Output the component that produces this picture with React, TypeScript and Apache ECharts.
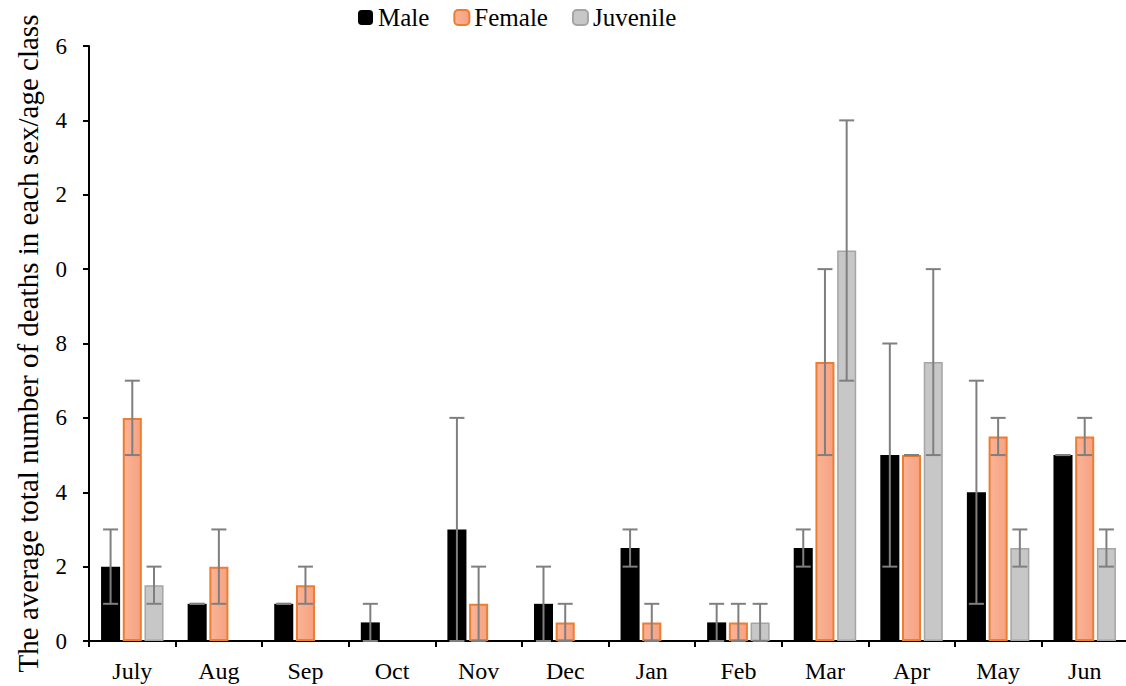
import React, { useEffect, useRef } from "react";
import * as echarts from "echarts";

const categories = ["July", "Aug", "Sep", "Oct", "Nov", "Dec", "Jan", "Feb", "Mar", "Apr", "May", "Jun"];
const seriesNames = ["Male", "Female", "Juvenile"];
const maleValues = [2, 1, 1, 0.5, 3, 1, 2.5, 0.5, 2.5, 5, 4, 5];
const femaleValues = [6, 2, 1.5, 0, 1, 0.5, 0.5, 0.5, 7.5, 5, 5.5, 5.5];
const juvenileValues = [1.5, 0, 0, 0, 0, 0, 0, 0.5, 10.5, 7.5, 2.5, 2.5];
const maleLow = [1, 1, 1, 0, 0, 0, 2, 0, 2, 2, 1, 5];
const maleHigh = [3, 1, 1, 1, 6, 2, 3, 1, 3, 8, 7, 5];
const femaleLow = [5, 1, 1, null, 0, 0, 0, 0, 5, 5, 5, 5];
const femaleHigh = [7, 3, 2, null, 2, 1, 1, 1, 10, 5, 6, 6];
const juvenileLow = [1, null, null, null, null, null, null, 0, 7, 5, 2, 2];
const juvenileHigh = [2, null, null, null, null, null, null, 1, 14, 10, 3, 3];
const yTicks = [0, 2, 4, 6, 8, 10, 12, 14, 16];
const yTickLabels = ["0", "2", "4", "6", "8", "0", "2", "4", "6"];

const FONT = "Liberation Serif";
const BAR_RATIO = 0.22;
const GAP_RATIO = 0.14;

function errData(lo: (number | null)[], hi: (number | null)[]) {
  const out: any[] = [];
  lo.forEach((l, i) => {
    if (l !== null && hi[i] !== null) out.push([i, l, hi[i]]);
  });
  return out;
}

function barData(values: number[]) {
  return values.map((v) => (v === 0 ? null : v));
}

function errSeries(seriesIndex: number, lo: (number | null)[], hi: (number | null)[]) {
  return {
    type: "custom",
    name: "err" + seriesIndex,
    z: 5,
    silent: true,
    encode: { x: 0, y: [1, 2] },
    data: errData(lo, hi),
    renderItem: (params: any, api: any) => {
      const idx = api.value(0);
      const pLo = api.coord([idx, api.value(1)]);
      const pHi = api.coord([idx, api.value(2)]);
      const band = api.size([1, 0])[0];
      const bw = band * BAR_RATIO;
      const off = (seriesIndex - 1) * bw * (1 + GAP_RATIO);
      const x = pLo[0] + off;
      const cap = 7.5;
      const style = { stroke: "#7f7f7f", lineWidth: 2 };
      return {
        type: "group",
        children: [
          { type: "line", shape: { x1: x, y1: pLo[1], x2: x, y2: pHi[1] }, style },
          { type: "line", shape: { x1: x - cap, y1: pHi[1], x2: x + cap, y2: pHi[1] }, style },
          { type: "line", shape: { x1: x - cap, y1: pLo[1], x2: x + cap, y2: pLo[1] }, style },
        ],
      };
    },
  };
}

export default function App() {
  const ref = useRef<HTMLDivElement>(null);
  useEffect(() => {
    if (!ref.current) return;
    const chart = echarts.init(ref.current, null, { renderer: "svg" });
    const barW = (BAR_RATIO * 100).toFixed(1) + "%";
    chart.setOption({
      animation: false,
      backgroundColor: "#ffffff",
      textStyle: { fontFamily: FONT },
      legend: {
        data: seriesNames,
        top: 0,
        left: 353,
        itemWidth: 15,
        itemHeight: 15,
        itemGap: 24,
        textStyle: { fontFamily: FONT, fontSize: 25, color: "#000" },
      },
      grid: { left: 89, right: -2, top: 46, bottom: 45, containLabel: false, outerBoundsMode: "none" },
      xAxis: {
        type: "category",
        data: categories,
        axisLine: { lineStyle: { color: "#000", width: 2 } },
        axisTick: { show: true, length: 6, lineStyle: { color: "#000", width: 2 } },
        axisLabel: { fontFamily: FONT, fontSize: 24, color: "#000", margin: 18 },
      },
      yAxis: {
        type: "value",
        min: 0,
        max: 16,
        interval: 2,
        name: "The average total number of deaths in each sex/age class",
        nameLocation: "middle",
        nameGap: 47,
        nameTextStyle: { fontFamily: FONT, fontSize: 29, color: "#000" },
        axisLine: { show: true, lineStyle: { color: "#000", width: 2 } },
        axisTick: { show: true, length: 6, lineStyle: { color: "#000", width: 2 } },
        splitLine: { show: false },
        axisLabel: {
          fontFamily: FONT,
          fontSize: 23,
          color: "#000",
          margin: 22,
          formatter: (v: number) => {
            const i = yTicks.indexOf(v);
            return i >= 0 ? yTickLabels[i] : "";
          },
        },
      },
      series: [
        {
          type: "bar",
          name: "Male",
          data: barData(maleValues),
          barWidth: barW,
          barGap: (GAP_RATIO * 100).toFixed(0) + "%",
          itemStyle: { color: "#000000" },
        },
        {
          type: "bar",
          name: "Female",
          data: barData(femaleValues),
          barWidth: barW,
          itemStyle: {
            color: new echarts.graphic.LinearGradient(0, 0, 1, 0, [
              { offset: 0, color: "#fbb397" },
              { offset: 1, color: "#f6a281" },
            ]),
            borderColor: "#ed7d31",
            borderWidth: 2,
          },
        },
        {
          type: "bar",
          name: "Juvenile",
          data: barData(juvenileValues),
          barWidth: barW,
          itemStyle: { color: "#c7c7c7", borderColor: "#a5a5a5", borderWidth: 1.5 },
        },
        errSeries(0, maleLow, maleHigh),
        errSeries(1, femaleLow, femaleHigh),
        errSeries(2, juvenileLow, juvenileHigh),
      ],
    });
    return () => chart.dispose();
  }, []);
  return (
    <div
      ref={ref}
      style={{ position: "absolute", left: 0, top: 0, width: 1126, height: 686 }}
    />
  );
}
